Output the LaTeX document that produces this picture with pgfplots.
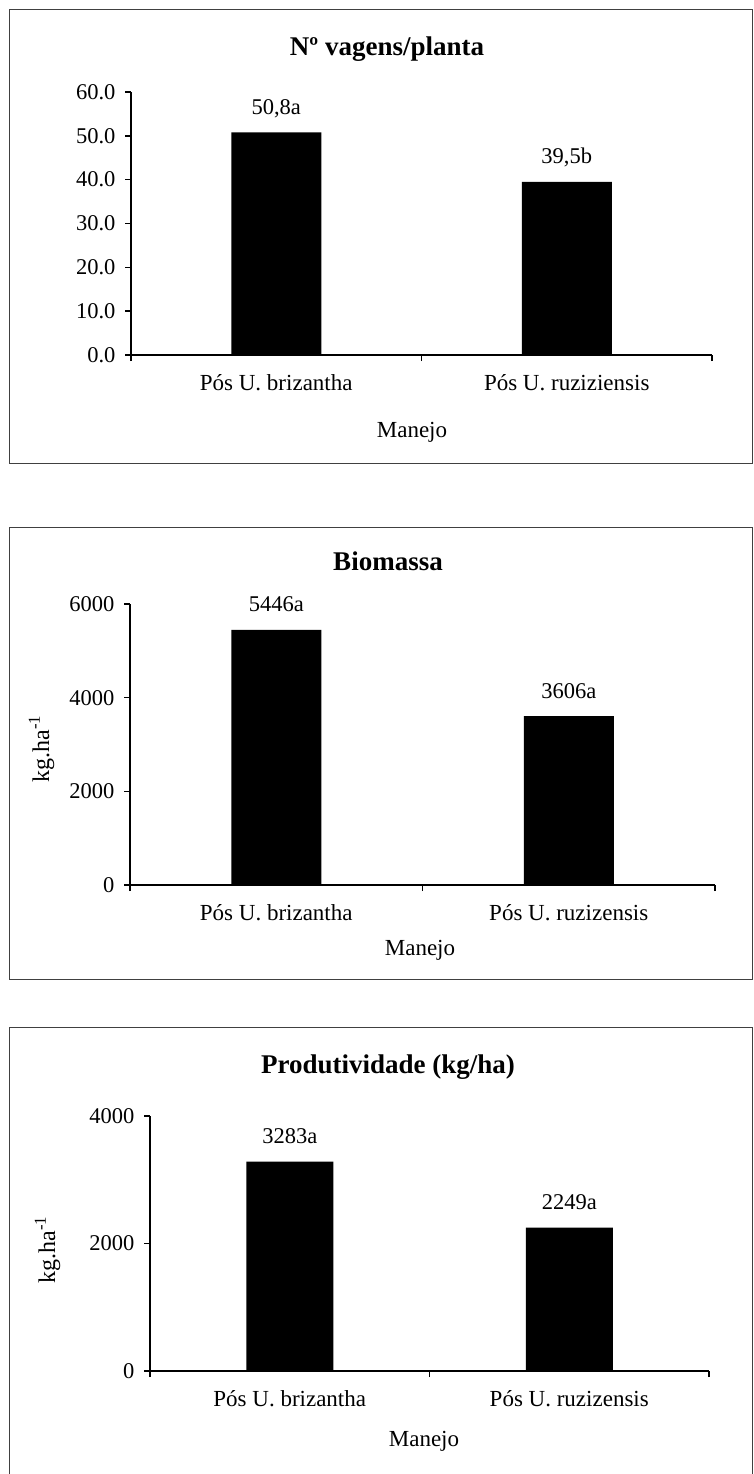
\documentclass[border=0pt]{standalone}
\usepackage{fontspec}
\setmainfont{Liberation Serif}
\usepackage{pgfplots}
\usepackage{pgfplotstable}
\pgfplotsset{compat=1.18}

% Médias por manejo (letras: teste de comparação de médias)
\pgfplotstableread{
x   y     lab
0.5 50.8  50,8a
1.5 39.5  39,5b
}\vagens
\pgfplotstableread{
x   y     lab
0.5 5446  5446a
1.5 3606  3606a
}\biomassa
\pgfplotstableread{
x   y     lab
0.5 3283  3283a
1.5 2249  2249a
}\produtividade

\newcommand\ticksize{\fontsize{22.5}{27}\selectfont}
\newcommand\labsize{\fontsize{23}{28}\selectfont}
\newcommand\ylabsize{\fontsize{24}{29}\selectfont}
\newcommand\titsize{\fontsize{27}{32}\selectfont\bfseries}

\pgfplotsset{
  painel/.style={
    scale only axis,
    axis lines=left,
    axis line style={-, line width=1.6pt, black},
    xmin=0, xmax=2, ymin=0,
    enlargelimits=false, clip=false,
    tick align=outside,
    major tick length=6pt,
    every tick/.style={black, line width=1.6pt},
    xtick={0.5,1.5},
    major x tick style={draw=none},
    extra x ticks={0,1,2},
    extra x tick labels={{},{},{}},
    extra x tick style={major x tick style={draw=black}},
    tick label style={font=\ticksize},
    xticklabel style={font=\labsize, anchor=base, yshift=-29pt},
    yticklabel style={xshift=-6pt},
    /pgf/number format/assume math mode=true,
    /pgf/number format/1000 sep={},
  },
  barra/.style={
    ybar, fill=black, draw=none,
    nodes near coords, point meta=explicit symbolic,
    every node near coord/.append style={anchor=base, yshift=18pt, font=\ticksize, text=black},
  },
}

\begin{document}
\begin{tikzpicture}
\path[use as bounding box] (0pt,0pt) rectangle (753pt,-1474pt);

% molduras dos três gráficos
\draw[black!75, line width=1pt] (9.5pt,-9.5pt) rectangle (752.5pt,-463pt);
\draw[black!75, line width=1pt] (9.5pt,-527pt) rectangle (752.5pt,-979.5pt);
\draw[black!75, line width=1pt] (9.5pt,-1027pt) rectangle (752.5pt,-1475pt);

% Nº de vagens por planta
\begin{axis}[painel,
  at={(131pt,-355pt)}, anchor=south west,
  width=581pt, height=263pt,
  ymax=60, ytick={0,10,...,60},
  yticklabel style={/pgf/number format/fixed, /pgf/number format/fixed zerofill, /pgf/number format/precision=1},
  xticklabels={Pós U. brizantha, Pós U. ruziziensis},
]
\addplot[barra, bar width=90pt] table[x=x, y=y, meta=lab] {\vagens};
\end{axis}
\node[font=\titsize, anchor=base] at (387pt,-55.7pt) {Nº vagens/planta};
\node[font=\labsize, anchor=base] at (412pt,-437pt) {Manejo};

% Biomassa
\begin{axis}[painel,
  at={(130pt,-885pt)}, anchor=south west,
  width=585pt, height=281pt,
  ymax=6000, ytick={0,2000,4000,6000},
  xticklabels={Pós U. brizantha, Pós U. ruzizensis},
]
\addplot[barra, bar width=90pt] table[x=x, y=y, meta=lab] {\biomassa};
\end{axis}
\node[font=\titsize, anchor=base] at (388pt,-570pt) {Biomassa};
\node[font=\labsize, anchor=base] at (420pt,-955pt) {Manejo};
\node[font=\ylabsize, rotate=90, anchor=base] at (49pt,-749pt) {kg.ha\textsuperscript{-1}};

% Produtividade
\begin{axis}[painel,
  at={(150pt,-1371pt)}, anchor=south west,
  width=559pt, height=255pt,
  ymax=4000, ytick={0,2000,4000},
  xticklabels={Pós U. brizantha, Pós U. ruzizensis},
]
\addplot[barra, bar width=87pt] table[x=x, y=y, meta=lab] {\produtividade};
\end{axis}
\node[font=\titsize, anchor=base] at (388pt,-1073pt) {Produtividade (kg/ha)};
\node[font=\labsize, anchor=base] at (424pt,-1446pt) {Manejo};
\node[font=\ylabsize, rotate=90, anchor=base] at (55pt,-1250pt) {kg.ha\textsuperscript{-1}};
\end{tikzpicture}
\end{document}
